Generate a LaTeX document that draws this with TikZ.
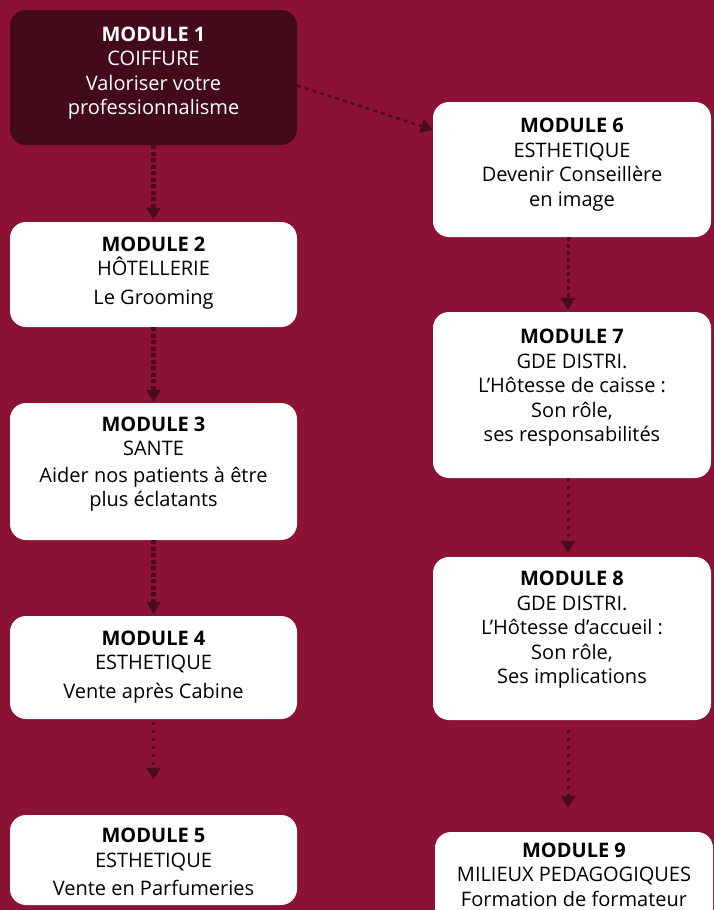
\documentclass[tikz,border=0pt]{standalone}
\usepackage{fontspec}
\setmainfont{Open Sans}
\usetikzlibrary{arrows.meta}
\definecolor{wine}{RGB}{139,17,53}
\definecolor{darkwine}{RGB}{67,10,26}
\definecolor{arrowwine}{RGB}{74,10,31}

\begin{document}
\begin{tikzpicture}[x=1pt, y=-1pt,
            module/.style={fill=white, rounded corners=16pt, inner sep=0pt},
            leftmod/.style={module, minimum width=287pt},
            rightmod/.style={module, minimum width=278pt},
            modtext/.style={align=center, inner sep=0pt,
                font=\fontsize{20}{24.5}\selectfont},
            link/.style={draw=arrowwine, -{Triangle[width=14pt,length=12pt]}},
            dense/.style={link, line width=4.5pt, dash pattern=on 4pt off 2.5pt},
            dashes/.style={link, line width=3pt, dash pattern=on 4pt off 3pt},
            dots/.style={link, line width=3pt, dash pattern=on 3pt off 5pt}]
    \fill[wine] (0,0) rectangle (714,910);
    \useasboundingbox (0,0) rectangle (714,910);
    \clip (0,0) rectangle (714,910);
    \node[leftmod, fill=darkwine, minimum height=135pt] (m1) at (153.5,77.5) {};
    \node[leftmod, minimum height=105pt] (m2) at (153.5,274.5) {};
    \node[leftmod, minimum height=137pt] (m3) at (153.5,471.5) {};
    \node[leftmod, minimum height=103pt] (m4) at (153.5,667.5) {};
    \node[leftmod, minimum height=90pt] (m5) at (153.5,860) {};
    \node[rightmod, minimum height=135pt] (m6) at (572,169.5) {};
    \node[rightmod, minimum height=166pt] (m7) at (572,395) {};
    \node[rightmod, minimum height=163pt] (m8) at (572,638.5) {};
    \node[rightmod, minimum height=96pt] (m9) at (574,880) {};
    \node[modtext, text=white] (t1) at ([yshift=4.5pt]m1)
        {\textbf{MODULE 1}\\COIFFURE\\Valoriser votre\\professionnalisme};
    \node[modtext] (t2) at ([yshift=1.5pt]m2)
        {\textbf{MODULE 2}\\HÔTELLERIE\\[4pt]Le Grooming};
    \node[modtext] (t3) at ([yshift=7.5pt]m3)
        {\textbf{MODULE 3}\\SANTE\\[2pt]Aider nos patients à être\\plus éclatants};
    \node[modtext] (t4) at ([yshift=0.5pt]m4)
        {\textbf{MODULE 4}\\ESTHETIQUE\\[4pt]Vente après Cabine};
    \node[modtext] (t5) at ([yshift=-2pt]m5)
        {\textbf{MODULE 5}\\ESTHETIQUE\\[4pt]Vente en Parfumeries};
    \node[modtext] (t6) at ([yshift=5pt]m6)
        {\textbf{MODULE 6}\\ESTHETIQUE\\Devenir Conseillère\\en image};
    \node[modtext] (t7) at ([yshift=7pt]m7)
        {\textbf{MODULE 7}\\GDE DISTRI.\\L’Hôtesse de caisse :\\Son rôle,\\ses responsabilités};
    \node[modtext] (t8) at ([yshift=8.5pt]m8)
        {\textbf{MODULE 8}\\GDE DISTRI.\\L’Hôtesse d’accueil :\\Son rôle,\\Ses implications};
    \node[modtext] (t9) at ([yshift=5.5pt]m9)
        {\textbf{MODULE 9}\\MILIEUX PEDAGOGIQUES\\Formation de formateur};
    \draw[dense, shorten >=2pt] (m1) -- (m2);
    \draw[dense, shorten >=1pt] (m2) -- (m3);
    \draw[dense, shorten >=2pt] (m3) -- (m4);
    \draw[dots, shorten <=3pt, shorten >=35pt] (m4) -- (m5);
    \draw[dashes, line width=2.5pt, dash pattern=on 4pt off 4pt] ([yshift=-8pt]m1.east) -- ([yshift=-28pt]m6.north west);
    \draw[dashes, shorten >=2pt] ([xshift=-4pt]m6.south) -- ([xshift=-4pt]m7.north);
    \draw[dots, shorten >=4pt] ([xshift=-4pt]m7.south) -- ([xshift=-4pt]m7.south |- m8.north);
    \draw[dots, shorten <=10pt, shorten >=24pt] ([xshift=-4pt]m8.south) -- ([xshift=-4pt]m8.south |- m9.north);
\end{tikzpicture}
\end{document}
